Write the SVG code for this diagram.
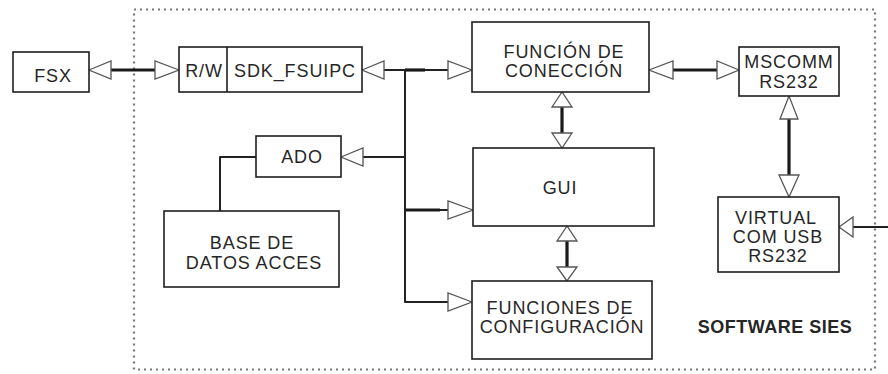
<svg xmlns="http://www.w3.org/2000/svg" width="888" height="374" viewBox="0 0 888 374">
  <style>
    .box { fill: #fff; stroke: #1e1e1e; stroke-width: 1.6; }
    .lbl { font-family: "Liberation Sans", Arial, Helvetica, sans-serif; font-size: 18px; fill: #262626; text-anchor: middle; letter-spacing: 0.9px; }
    .title { font-weight: bold; letter-spacing: 0.5px; }
    .thin { fill: none; stroke: #222; stroke-width: 2; stroke-linejoin: round; }
    .thick { fill: none; stroke: #1a1a1a; stroke-width: 3.2; }
    .head { fill: #fff; stroke: #555; stroke-width: 1.3; stroke-linejoin: miter; }
    .frame { fill: none; stroke: #777; stroke-width: 2.2; stroke-dasharray: 2 4; }
  </style>

  <!-- software boundary -->
  <rect class="frame" x="134" y="9.5" width="741" height="360"/>
  <text class="lbl title" x="775" y="333">SOFTWARE SIES</text>

  <!-- connectors -->
  <g id="connectors">
    <!-- FSX <-> R/W -->
    <line class="thick" x1="111" y1="70" x2="155" y2="70"/>
    <polygon class="head" points="89,70 111,61 111,79"/>
    <polygon class="head" points="179,70 155,61 155,79"/>

    <!-- SDK_FSUIPC bus -->
    <line class="thin" x1="384" y1="70" x2="448" y2="70"/>
    <line class="thick" x1="405" y1="70" x2="425" y2="70"/>
    <polygon class="head" points="362,70 384,61 384,79"/>
    <polygon class="head" points="472,70 448,61 448,79"/>
    <path class="thin" d="M405,70 V302 H448"/>
    <line class="thin" x1="363" y1="157" x2="405" y2="157"/>
    <polygon class="head" points="341,157 363,148 363,166"/>
    <line class="thin" x1="405" y1="210" x2="448" y2="210"/>
    <line class="thick" x1="405" y1="210" x2="440" y2="210" stroke-width="2.6"/>
    <polygon class="head" points="473,210 448,201 448,219"/>
    <polygon class="head" points="472,302 448,293 448,311"/>

    <!-- ADO - BASE DE DATOS -->
    <path class="thin" d="M256,157 H220 V211"/>

    <!-- FUNCION DE CONECCION <-> MSCOMM -->
    <line class="thick" x1="673" y1="70" x2="717" y2="70"/>
    <polygon class="head" points="649,70 673,61 673,79"/>
    <polygon class="head" points="739,70 717,61 717,79"/>

    <!-- FUNCION DE CONECCION <-> GUI -->
    <line class="thick" x1="562" y1="107" x2="562" y2="133"/>
    <polygon class="head" points="562,92 552,107 572,107"/>
    <polygon class="head" points="562,148 552,133 572,133"/>

    <!-- GUI <-> FUNCIONES DE CONFIGURACION -->
    <line class="thick" x1="567" y1="241" x2="567" y2="267"/>
    <polygon class="head" points="567,226 557,241 577,241"/>
    <polygon class="head" points="567,281 557,267 577,267"/>

    <!-- MSCOMM <-> VIRTUAL COM -->
    <line class="thick" x1="789" y1="119" x2="789" y2="175"/>
    <polygon class="head" points="789,96 780,119 798,119"/>
    <polygon class="head" points="789,197 779,175 799,175"/>

    <!-- external link into VIRTUAL COM -->
    <line class="thin" x1="853" y1="227" x2="888" y2="227"/>
    <polygon class="head" points="839,227 853,217 853,237"/>
  </g>

  <g id="fsx">
    <rect class="box" x="13" y="52" width="76" height="40"/>
    <text class="lbl" x="53" y="82">FSX</text>
  </g>

  <g id="sdk-fsuipc">
    <rect class="box" x="179" y="47" width="183" height="45"/>
    <line class="box" x1="227" y1="47" x2="227" y2="92"/>
    <text class="lbl" x="204" y="77">R/W</text>
    <text class="lbl" x="295" y="77">SDK_FSUIPC</text>
  </g>

  <g id="funcion-conexion">
    <rect class="box" x="472" y="22" width="177" height="70"/>
    <text class="lbl" x="564" y="58">FUNCIÓN DE</text>
    <text class="lbl" x="564" y="77">CONECCIÓN</text>
  </g>

  <g id="mscomm">
    <rect class="box" x="739" y="47" width="100" height="49"/>
    <text class="lbl" x="789" y="68">MSCOMM</text>
    <text class="lbl" x="789" y="88">RS232</text>
  </g>

  <g id="ado">
    <rect class="box" x="256" y="136" width="85" height="41"/>
    <text class="lbl" x="302" y="163">ADO</text>
  </g>

  <g id="base-datos">
    <rect class="box" x="164" y="211" width="175" height="76"/>
    <text class="lbl" x="252" y="249">BASE DE</text>
    <text class="lbl" x="254" y="269">DATOS ACCES</text>
  </g>

  <g id="gui">
    <rect class="box" x="473" y="148" width="181" height="78"/>
    <text class="lbl" x="560" y="194">GUI</text>
  </g>

  <g id="funciones-configuracion">
    <rect class="box" x="472" y="281" width="180" height="78"/>
    <text class="lbl" x="560" y="314">FUNCIONES DE</text>
    <text class="lbl" x="562" y="333">CONFIGURACIÓN</text>
  </g>

  <g id="virtual-com">
    <rect class="box" x="718" y="197" width="121" height="75"/>
    <text class="lbl" x="776" y="224">VIRTUAL</text>
    <text class="lbl" x="778" y="243">COM USB</text>
    <text class="lbl" x="778" y="262">RS232</text>
  </g>
</svg>
